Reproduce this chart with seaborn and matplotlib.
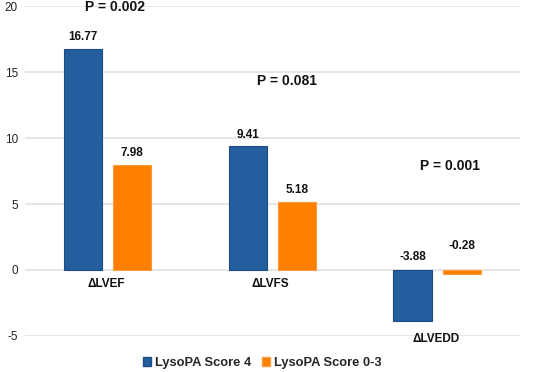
import matplotlib
matplotlib.use("Agg")
import matplotlib.pyplot as plt
import seaborn as sns
import pandas as pd
import numpy as np

categories = ["ΔLVEF", "ΔLVFS", "ΔLVEDD"]
groups = ["LysoPA Score 4", "LysoPA Score 0-3"]
score4 = [16.77, 9.41, -3.88]
score03 = [7.98, 5.18, -0.28]
p_values = ["P = 0.002", "P = 0.081", "P = 0.001"]
yticks = [-5, 0, 5, 10, 15, 20]

colors = {"LysoPA Score 4": "#255E9F", "LysoPA Score 0-3": "#FF8000"}
edges = {"LysoPA Score 4": "#1D4C85", "LysoPA Score 0-3": "#FF9A3C"}

df = pd.DataFrame({
    "cat": categories * 2,
    "group": [groups[0]] * 3 + [groups[1]] * 3,
    "val": score4 + score03,
})

sns.set_style("white")
plt.rcParams["font.family"] = ["Liberation Sans", "DejaVu Sans"]

fig = plt.figure(figsize=(5.36, 3.72), dpi=100)
ax = fig.add_axes([0.0466, 0.0968, 0.923, 0.887])

sns.barplot(data=df, x="cat", y="val", hue="group", order=categories,
            hue_order=groups, palette=colors, width=0.6, gap=0.23,
            dodge=True, ax=ax, legend=True, linewidth=0.8, saturation=1)

for cont, g in zip(ax.containers, groups):
    for p in cont.patches:
        p.set_edgecolor(edges[g])
        p.set_linewidth(0.8)

ax.set_xlim(-0.5, 2.5)
ax.set_ylim(-5, 20)
ax.set_yticks(yticks)
ax.set_yticklabels([str(t) for t in yticks], fontsize=8.5, color="#222222")
ax.set_xticks([])
ax.set_xlabel("")
ax.set_ylabel("")
ax.tick_params(axis="y", length=0, pad=5)
for s in ax.spines.values():
    s.set_visible(False)
ax.yaxis.grid(True, color="#E6E6E6", linewidth=1.4)
ax.set_axisbelow(True)

# value labels
label_pos = {(0, 0): 17.62, (0, 1): 8.83, (1, 0): 10.26, (1, 1): 6.03,
             (2, 0): 1.0, (2, 1): 1.8}
for gi, cont in enumerate(ax.containers):
    vals = score4 if gi == 0 else score03
    for ci, p in enumerate(cont.patches):
        xc = p.get_x() + p.get_width() / 2
        ax.text(xc, label_pos[(ci, gi)], f"{vals[ci]:.2f}", ha="center",
                va="center", fontsize=8.5, fontweight="bold", color="#111111")

# category labels
cat_y = [-1.06, -1.06, -5.23]
for i, c in enumerate(categories):
    ax.text(i - 0.01, cat_y[i], c, ha="center", va="center", fontsize=8.5,
            fontweight="bold", color="#111111", clip_on=False)

# p-values
p_pos = [(0.047, 19.9), (1.087, 14.3), (2.08, 7.9)]
for (x, y), t in zip(p_pos, p_values):
    ax.text(x, y, t, ha="center", va="center", fontsize=10,
            fontweight="bold", color="#111111", clip_on=False)

ax.legend_.remove()
handles = [plt.Rectangle((0, 0), 1, 1, facecolor=colors[g], edgecolor=edges[g]) for g in groups]
leg = fig.legend(handles, groups, loc="center", bbox_to_anchor=(0.489, 0.024),
                 ncol=2, frameon=False, handlelength=0.65, handleheight=0.65,
                 handletextpad=0.3, columnspacing=0.8,
                 prop={"size": 9.3, "weight": "bold"})

fig.savefig("out.png", dpi=100)
